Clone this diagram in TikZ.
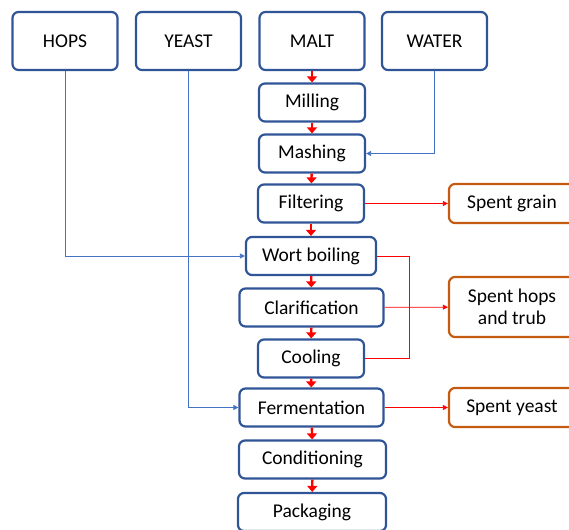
\documentclass[tikz,border=0pt]{standalone}
\usepackage{fontspec}
\setmainfont{Carlito}
\usetikzlibrary{arrows.meta}
\definecolor{boxblue}{HTML}{2F5597}
\definecolor{lineblue}{HTML}{4472C4}
\definecolor{wasteorange}{HTML}{C55A11}

\begin{document}
\begin{tikzpicture}[x=1pt,y=-1pt,
        every node/.style={rounded corners=6pt,line width=2.2pt,inner sep=2pt,
            font=\fontsize{19.5}{22}\selectfont,align=center},
        input/.style={draw=boxblue,minimum width=105pt,minimum height=58pt},
        stage/.style={draw=boxblue,minimum height=38pt},
        waste/.style={draw=wasteorange,minimum width=126pt,minimum height=39pt},
        flow/.style={red,line width=2.4pt,-{Triangle[length=6pt,width=10pt]}},
        feed/.style={lineblue,line width=0.8pt,-{Triangle[length=5pt,width=5pt]}},
        waste line/.style={red,line width=0.8pt,-{Triangle[length=5pt,width=5pt]}}]
    \useasboundingbox (0,0) rectangle (569,529);

    % raw materials
    \node[input] (hops)  at (65,41)    {HOPS};
    \node[input] (yeast) at (188.5,41) {YEAST};
    \node[input] (malt)  at (312,41)   {MALT};
    \node[input] (water) at (434.5,41) {WATER};

    % process steps
    \node[stage,minimum width=106pt] (milling)   at (312,102.5) {Milling};
    \node[stage,minimum width=106pt] (mashing)   at (312,153.5) {Mashing};
    \node[stage,minimum width=106pt] (filtering) at (311,203.5) {Filtering};
    \node[stage,minimum width=130pt] (boiling)   at (311,256)   {Wort boiling};
    \node[stage,minimum width=144pt] (clarif)    at (311.5,307.5) {Clarification};
    \node[stage,minimum width=106pt] (cooling)   at (311,358.5) {Cooling};
    \node[stage,minimum width=144pt] (ferment)   at (311.5,407.5) {Fermentation};
    \node[stage,minimum width=147pt] (condit)    at (312.5,459.5) {Conditioning};
    \node[stage,minimum width=148pt] (packaging) at (312,512)   {Packaging};

    % by-products
    \node[waste] (grain)     at (512,203.5) {Spent grain};
    \node[waste,minimum height=60pt] (hopstrub) at (512,307) {Spent hops\\and trub};
    \node[waste] (spentyeast) at (512,407.5) {Spent yeast};

    % main line
    \draw[flow] (malt) -- (milling);
    \draw[flow] (milling) -- (mashing);
    \draw[flow] (mashing) -- (filtering);
    \draw[flow] (filtering) -- (boiling);
    \draw[flow] (boiling) -- (clarif);
    \draw[flow] (clarif) -- (cooling);
    \draw[flow] (cooling) -- (ferment);
    \draw[flow] (ferment) -- (condit);
    \draw[flow] (condit) -- (packaging);

    % additions
    \draw[feed] (water.south) |- (mashing.east);
    \draw[feed] (hops.south) |- (boiling.west);
    \draw[feed] (yeast.south) |- (ferment.west);

    % outputs
    \coordinate (trubline) at (409,256);
    \draw[waste line] (filtering) -- (grain);
    \draw[red,line width=0.8pt] (boiling.east) -- (trubline) |- (cooling.east);
    \draw[waste line] (clarif) -- (hopstrub);
    \draw[waste line] (ferment) -- (spentyeast);
\end{tikzpicture}
\end{document}
